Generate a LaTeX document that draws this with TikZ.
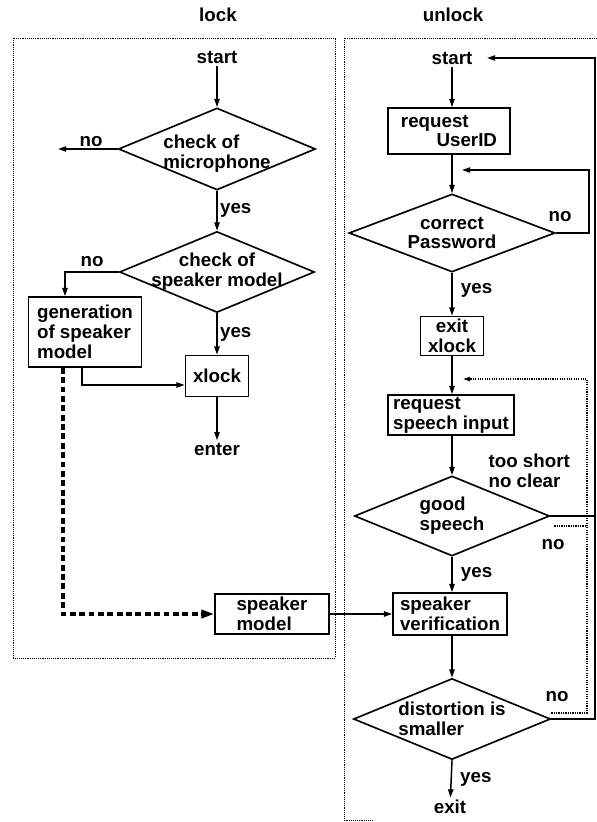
\documentclass[tikz,border=0pt]{standalone}
\usepackage{fontspec}
\setmainfont{Liberation Sans}
\usetikzlibrary{shapes.geometric,arrows.meta,calc}

\begin{document}
\begin{tikzpicture}[x=0.03cm, y=-0.03cm,
    every node/.style={font=\bfseries\fontsize{16}{17}\selectfont, inner sep=2pt},
    box/.style={draw, line width=1.4pt, inner sep=0pt},
    decision/.style={draw, diamond, line width=1.4pt, inner sep=0pt},
    arr/.style={line width=1.3pt, -{Triangle[length=7pt,width=4.5pt]}},
    dotline/.style={line width=1.2pt, dash pattern=on 1pt off 1pt},
    dotarr/.style={dotline, -{Triangle[length=6pt,width=3.5pt]}},
    dasharr/.style={line width=3pt, dash pattern=on 5pt off 3pt, -{Triangle[length=11pt,width=7pt]}},
    frame/.style={line width=0.7pt, dash pattern=on 0.8pt off 0.8pt}]
\useasboundingbox (0,0) rectangle (597,822);
% frames
\draw[frame] (13,38) rectangle (335,658);
\draw[frame] (597,38) -- (344,38) -- (344,820) -- (372,820);
\node (lock) at (218,15) {lock};
\node (unlock) at (453,15) {unlock};
% lock side
\node (startL) at (217,57) {start};
\node[decision, minimum width=5.91cm, minimum height=2.46cm,
      label={[align=left, yshift=-4pt]center:check of\\microphone}] (mic) at (217,149) {};
\node[decision, minimum width=5.85cm, minimum height=2.43cm,
      label={[align=center]center:check of\\speaker model}] (spk) at (217,272) {};
\node[box, align=left, minimum width=3.39cm, minimum height=2.1cm] (gen) at (85,332) {generation\\of speaker\\model};
\node[box, minimum width=1.89cm, minimum height=1.23cm] (xlock) at (217,376) {xlock};
\node (enter) at (217,449) {enter};
\node[box, align=left, minimum width=3.42cm, minimum height=1.2cm] (spkmodel) at (272,614) {speaker\\model};
\node (noA) at (91,142) {no};
\node (noB) at (92,262) {no};
\coordinate (micno) at (58,149);
\draw[arr] (startL) -- (mic.north);
\draw[arr] (mic.west) -- (micno);
\draw[arr] (mic.south) -- (spk.north) node[midway, right] (yesA) {yes};
\draw[arr] (spk.west) -| ($(gen.north)+(-20,0)$);
\draw[arr] (spk.south) -- (xlock.north) node[midway, right] (yesB) {yes};
\draw[arr] ($(gen.south)+(-3,0)$) |- ($(xlock.west)+(0,9)$);
\draw[arr] (xlock) -- (enter);
\draw[dasharr] ($(gen.south)+(-22,0)$) |- (spkmodel.west);
% unlock side
\node (startR) at (452,58) {start};
\node[box, align=left, minimum width=3.66cm, minimum height=1.38cm] (uid) at (449,131) {request\\\hspace*{1.9em}UserID};
\node[decision, minimum width=6.18cm, minimum height=2.34cm,
      label={[align=center]center:correct\\Password}] (pwd) at (452,233) {};
\node[box, align=center, minimum width=1.89cm, minimum height=1.17cm] (exitx) at (452,336) {exit\\xlock};
\node[box, align=left, minimum width=3.78cm, minimum height=1.2cm] (speech) at (451,415) {request\\speech input};
\node[decision, minimum width=5.85cm, minimum height=2.4cm,
      label={[align=left]center:good\\speech}] (good) at (452,516) {};
\node[box, align=left, minimum width=3.42cm, minimum height=1.26cm] (verif) at (450,614) {speaker\\verification};
\node[decision, minimum width=5.91cm, minimum height=2.43cm,
      label={[align=left]center:distortion is\\smaller}] (dist) at (452,719) {};
\node (exitR) at (450,807) {exit};
\node[anchor=west, align=left] (why) at (486,471) {too short\\no clear};
\node (noC) at (560,217) {no};
\node (noD) at (553,545) {no};
\node (noE) at (557,697) {no};
\coordinate (pwdin) at (462,170);
\coordinate (backtop) at (595,58);
\coordinate (startin) at (487,58);
\coordinate (retrytop) at (587,379);
\coordinate (retryin) at (463,379);
\draw[arr] (startR) -- (startR |- uid.north);
\draw[arr] (uid.south -| pwd.north) -- (pwd.north);
\draw[arr] (pwd.east) -- ++(33,0) |- (pwdin);
\draw[arr] (pwd.south) -- (exitx.north) node[pos=0.4, right=5pt] (yesC) {yes};
\draw[arr] (exitx) -- (exitx |- speech.north);
\draw[arr] (speech.south -| good.north) -- (good.north);
\draw[arr] (good.south) -- (good.south |- verif.north) node[midway, right=5pt] (yesD) {yes};
\draw[arr] (verif.south -| dist.north) -- (dist.north);
\draw[arr] (dist.south) -- (exitR) node[midway, right=5pt] (yesE) {yes};
\draw[arr] (spkmodel.east) -- (verif.west);
% return paths
\draw[arr] (dist.east) -- (dist.east -| backtop) -- (backtop) -- (startin);
\draw[line width=1.3pt] (good.east) -- (good.east -| backtop);
\draw[dotarr] ($(dist.east)+(0,-6)$) -| (retrytop) -- (retryin);
\draw[dotline] ($(good.east)+(4,10)$) -- ($(good.east -| retrytop)+(0,10)$);
\end{tikzpicture}
\end{document}
